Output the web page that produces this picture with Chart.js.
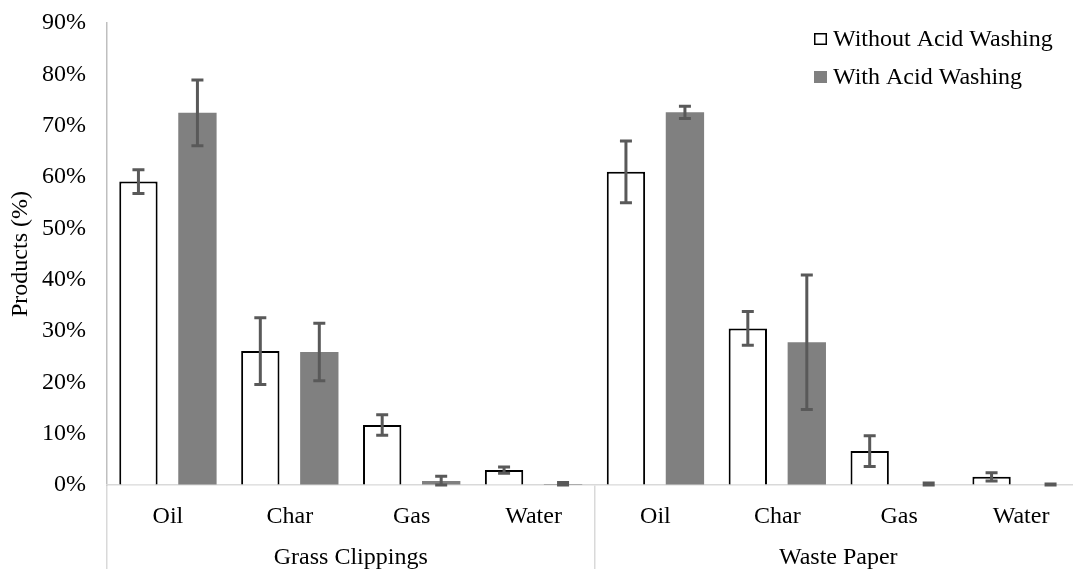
<!DOCTYPE html>
<html>
<head>
<meta charset="utf-8">
<script src="https://cdn.jsdelivr.net/npm/chart.js@4/dist/chart.umd.min.js"></script>
<style>
  html, body { margin: 0; padding: 0; background: #fff; overflow: hidden; }
  /* canvas a bit wider than the window: the original is cropped on the right */
  #wrap { width: 1083px; height: 569px; position: relative; }
</style>
</head>
<body>
<div id="wrap"><canvas id="chart"></canvas></div>
<script>
const categories = ['Oil', 'Char', 'Gas', 'Water', 'Oil', 'Char', 'Gas', 'Water'];
const groups = ['Grass Clippings', 'Waste Paper'];
const seriesNames = ['Without Acid Washing', 'With Acid Washing'];

// values in %
const withoutAcid = [59.1, 26.1, 11.7, 2.9, 61.0, 30.5, 6.6, 1.6];
const withoutAcidErr = [2.3, 6.5, 2.0, 0.6, 6.0, 3.3, 3.0, 0.8];
const withAcid = [72.5, 25.9, 0.8, 0.2, 72.6, 27.8, 0.1, 0.1];
const withAcidErr = [6.4, 5.6, 0.9, 0.3, 1.2, 13.1, 0.3, 0.1];

const yTicks = [0, 10, 20, 30, 40, 50, 60, 70, 80, 90];

const FONT = "'Liberation Serif', 'Times New Roman', serif";
const FONT_SIZE = 24;

// draws the +/- error bars on top of each bar
const errorBars = {
  id: 'errorBars',
  afterDatasetsDraw(chart) {
    const ctx = chart.ctx;
    const y = chart.scales.y;
    ctx.save();
    ctx.strokeStyle = '#595959';
    ctx.lineWidth = 3;
    chart.data.datasets.forEach((ds, i) => {
      const meta = chart.getDatasetMeta(i);
      meta.data.forEach((bar, j) => {
        const v = ds.data[j], e = ds.errors[j];
        const top = y.getPixelForValue(v + e);
        const bot = Math.min(y.getPixelForValue(v - e), y.getPixelForValue(0));
        const x = bar.x;
        ctx.beginPath();
        ctx.moveTo(x, top); ctx.lineTo(x, bot);
        ctx.moveTo(x - 6, top); ctx.lineTo(x + 6, top);
        ctx.moveTo(x - 6, bot); ctx.lineTo(x + 6, bot);
        ctx.stroke();
      });
    });
    ctx.restore();
  }
};

// legend drawn inside the plot, top right
const insideLegend = {
  id: 'insideLegend',
  afterDraw(chart) {
    const ctx = chart.ctx;
    const area = chart.chartArea;
    const x0 = area.right - 268;
    ctx.save();
    ctx.font = FONT_SIZE + 'px ' + FONT;
    ctx.textBaseline = 'middle';
    ctx.fillStyle = '#000';
    chart.data.datasets.forEach((ds, i) => {
      const cy = area.top + 16 + i * 38;
      ctx.fillStyle = ds.backgroundColor;
      ctx.fillRect(x0, cy - 6, 13, 12);
      if (ds.borderWidth) {
        ctx.strokeStyle = ds.borderColor;
        ctx.lineWidth = 1.5;
        ctx.strokeRect(x0 + 0.75, cy - 5.25, 11.5, 10.5);
      }
      ctx.fillStyle = '#000';
      ctx.fillText(ds.label, x0 + 19, cy + 1);
    });
    ctx.restore();
  }
};

new Chart('chart', {
  type: 'bar',
  data: {
    labels: categories,
    datasets: [{
      label: seriesNames[0],
      data: withoutAcid,
      errors: withoutAcidErr,
      backgroundColor: '#ffffff',
      borderColor: '#000000',
      borderWidth: 2,
      categoryPercentage: 0.968,
      barPercentage: 0.65
    }, {
      label: seriesNames[1],
      data: withAcid,
      errors: withAcidErr,
      backgroundColor: '#808080',
      borderWidth: 0,
      categoryPercentage: 0.968,
      barPercentage: 0.65
    }]
  },
  options: {
    responsive: true,
    maintainAspectRatio: false,
    animation: false,
    layout: { padding: { top: 23, right: 1, left: 0, bottom: 0 } },
    plugins: {
      legend: { display: false },
      tooltip: { enabled: false }
    },
    scales: {
      y: {
        min: 0,
        max: 90,
        afterBuildTicks: (s) => { s.ticks = yTicks.map(v => ({ value: v })); },
        afterFit: (s) => { s.width = 107; },
        // invisible tick marks give the gap between labels and axis line
        grid: { display: true, drawOnChartArea: false, drawTicks: true, tickLength: 21, color: 'rgba(0,0,0,0)' },
        border: { display: true, color: '#bfbfbf', width: 1.5 },
        ticks: {
          padding: 0,
          color: '#000',
          font: { family: FONT, size: FONT_SIZE },
          callback: (v) => v + '%'
        },
        title: {
          display: true,
          text: 'Products (%)',
          color: '#000',
          font: { family: FONT, size: FONT_SIZE },
          padding: { top: 6, bottom: 0 }
        }
      },
      x: {
        weight: 0,
        afterFit: (s) => { s.height = 48; },
        grid: {
          offset: true,
          drawOnChartArea: false,
          drawTicks: true,
          tickLength: 84,
          lineWidth: 1.5,
          color: (c) => (c.index === 0 || c.index === 4) ? '#d9d9d9' : 'rgba(0,0,0,0)'
        },
        border: { display: true, color: '#d9d9d9', width: 1.5 },
        ticks: {
          padding: -67,
          maxRotation: 0,
          autoSkip: false,
          color: '#000',
          font: { family: FONT, size: FONT_SIZE }
        }
      },
      x2: {
        type: 'category',
        labels: groups,
        position: 'bottom',
        weight: 1,
        offset: true,
        afterFit: (s) => { s.height = 36; },
        grid: { display: false, drawTicks: false },
        border: { display: false },
        ticks: {
          padding: 10,
          maxRotation: 0,
          color: '#000',
          font: { family: FONT, size: FONT_SIZE }
        }
      }
    }
  },
  plugins: [errorBars, insideLegend]
});
</script>
</body>
</html>
